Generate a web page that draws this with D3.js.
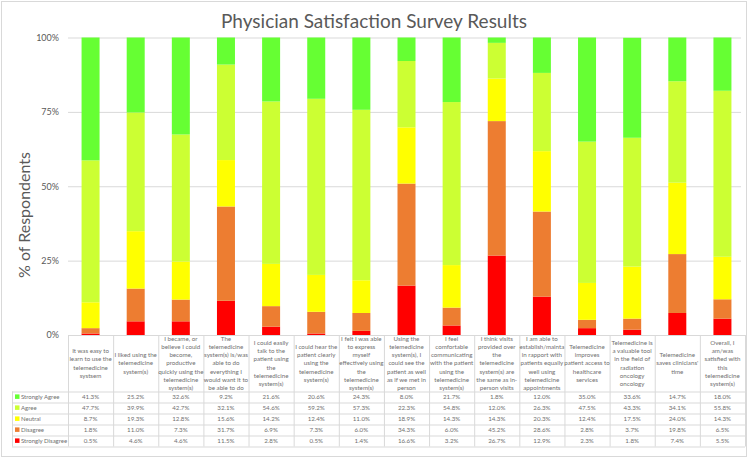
<!DOCTYPE html>
<html>
<head>
<meta charset="utf-8">
<script src="https://cdn.jsdelivr.net/npm/d3@7"></script>
<style>
    body { margin: 0; background: #fff; }
    svg { display: block; font-family: Lato, "Open Sans", sans-serif; }
</style>
</head>
<body>
<svg id="chart" width="750" height="461"></svg>
<script>
// category labels, one entry per line as they wrap in the data table
const categories = [
    ["It was easy to", "learn to use the", "telemedicine", "systsem"],
    ["I liked using the", "telemedicine", "system(s)"],
    ["I became, or", "believe I could", "become,", "productive", "quickly using the", "telemedicine", "system(s)"],
    ["The", "telemedicine", "system(s) is/was", "able to do", "everything I", "would want it to", "be able to do"],
    ["I could easily", "talk to the", "patient using", "the", "telemedicine", "system(s)"],
    ["I could hear the", "patient clearly", "using the", "telemedicine", "system(s)"],
    ["I felt I was able", "to express", "myself", "effectively using", "the", "telemedicine", "system(s)"],
    ["Using the", "telemedicine", "system(s), I", "could see the", "patient as well", "as if we met in", "person"],
    ["I feel", "comfortable", "communicating", "with the patient", "using the", "telemedicine", "system(s)"],
    ["I think visits", "provided over", "the", "telemedicine", "system(s) are", "the same as in-", "person visits"],
    ["I am able to", "establish/mainta", "in rapport with", "patients equally", "well using", "telemedicine", "appointments"],
    ["Telemedicine", "improves", "patient access to", "healthcare", "services"],
    ["Telemedicine is", "a valuable tool", "in the field of", "radiation", "oncology", "oncology"],
    ["Telemedicine", "saves clinicians'", "time"],
    ["Overall, I", "am/was", "satisfied with", "this", "telemedicine", "system(s)"]
];

const seriesNames = ["Strongly Agree", "Agree", "Neutral", "Disagree", "Strongly Disagree"];
const seriesColors = ["#66ff33", "#ccff33", "#ffff00", "#ed7d31", "#ff0000"];

const stronglyAgree    = [41.3, 25.2, 32.6, 9.2, 21.6, 20.6, 24.3, 8.0, 21.7, 1.8, 12.0, 35.0, 33.6, 14.7, 18.0];
const agree            = [47.7, 39.9, 42.7, 32.1, 54.6, 59.2, 57.3, 22.3, 54.8, 12.0, 26.3, 47.5, 43.3, 34.1, 55.8];
const neutral          = [8.7, 19.3, 12.8, 15.6, 14.2, 12.4, 11.0, 18.9, 14.3, 14.3, 20.3, 12.4, 17.5, 24.0, 14.3];
const disagree         = [1.8, 11.0, 7.3, 31.7, 6.9, 7.3, 6.0, 34.3, 6.0, 45.2, 28.6, 2.8, 3.7, 19.8, 6.5];
const stronglyDisagree = [0.5, 4.6, 4.6, 11.5, 2.8, 0.5, 1.4, 16.6, 3.2, 26.7, 12.9, 2.3, 1.8, 7.4, 5.5];

const yTicks = [0, 25, 50, 75, 100];

const allSeries = [stronglyAgree, agree, neutral, disagree, stronglyDisagree];

const svg = d3.select("#chart");
const textColor = "#595959";
const tableText = "#6f6f6f";
const gridColor = "#d9d9d9";

const plot = {left: 68, right: 745, top: 37.5, bottom: 335};
const table = {top: 335, headBottom: 391.5, rowH: 11, legendLeft: 12};

// outer chart border
svg.append("rect")
    .attr("x", 1.5).attr("y", 1.5)
    .attr("width", 745).attr("height", 455)
    .attr("fill", "none").attr("stroke", gridColor);

// rows for stacking, one per category
const rows = categories.map((c, i) => {
    let r = {idx: i};
    seriesNames.forEach((s, j) => r[s] = allSeries[j][i]);
    return r;
});

const x = d3.scaleBand()
    .domain(d3.range(categories.length))
    .range([plot.left, plot.right]);

const y = d3.scaleLinear()
    .domain([0, 100])
    .range([plot.bottom, plot.top]);

// gridlines
svg.append("g")
    .selectAll("line")
    .data(yTicks)
    .join("line")
    .attr("x1", plot.left).attr("x2", plot.right - 4)
    .attr("y1", d => y(d) + 0.5).attr("y2", d => y(d) + 0.5)
    .attr("stroke", gridColor);

// y axis labels
const yAxis = d3.axisLeft(y).tickValues(yTicks).tickFormat(d => d + "%").tickSize(0).tickPadding(9);
svg.append("g")
    .attr("transform", "translate(" + plot.left + ",0)")
    .call(yAxis)
    .call(g => g.select(".domain").remove())
    .call(g => g.selectAll("text")
        .attr("fill", textColor)
        .style("font-size", "9px")
        .style("font-family", "Lato, sans-serif"));

// stacked bars, bottom to top: strongly disagree ... strongly agree
const stackOrder = seriesNames.slice().reverse();
const stack = d3.stack().keys(stackOrder);
const stacked = stack(rows);

const barW = 18;
svg.append("g")
    .selectAll("g")
    .data(stacked)
    .join("g")
    .attr("fill", d => seriesColors[seriesNames.indexOf(d.key)])
    .selectAll("rect")
    .data(d => d)
    .join("rect")
    .attr("x", d => x(d.data.idx) + x.bandwidth() / 2 - barW / 2)
    .attr("width", barW)
    .attr("y", d => y(Math.min(100, d[1])))
    .attr("height", d => y(d[0]) - y(Math.min(100, d[1])));

// title
svg.append("text")
    .attr("x", 374).attr("y", 28)
    .attr("text-anchor", "middle")
    .attr("fill", textColor)
    .style("font-size", "19px")
    .text("Physician Satisfaction Survey Results");

// y axis title
svg.append("text")
    .attr("transform", "translate(29.5,215) rotate(-90)")
    .attr("text-anchor", "middle")
    .attr("fill", textColor)
    .style("font-size", "16px")
    .text("% of Respondents");

// data table
const tbl = svg.append("g");
const tableBottom = table.headBottom + table.rowH * seriesNames.length;

// horizontal lines
const hLines = [table.top].concat(d3.range(seriesNames.length + 1).map(i => table.headBottom + i * table.rowH));
tbl.selectAll("line.h")
    .data(hLines)
    .join("line")
    .attr("class", "h")
    .attr("x1", (d, i) => i === 0 ? plot.left : table.legendLeft)
    .attr("x2", plot.right)
    .attr("y1", d => d + 0.5).attr("y2", d => d + 0.5)
    .attr("stroke", gridColor);

// vertical lines
const vLines = d3.range(categories.length + 1).map(i => plot.left + i * x.step());
tbl.selectAll("line.v")
    .data(vLines)
    .join("line")
    .attr("class", "v")
    .attr("x1", d => d + 0.5).attr("x2", d => d + 0.5)
    .attr("y1", table.top).attr("y2", tableBottom)
    .attr("stroke", gridColor);

tbl.append("line")
    .attr("x1", table.legendLeft + 0.5).attr("x2", table.legendLeft + 0.5)
    .attr("y1", table.headBottom).attr("y2", tableBottom)
    .attr("stroke", gridColor);

// header labels
const lineH = 8.1;
const headMid = (table.top + table.headBottom) / 2;
tbl.selectAll("text.head")
    .data(categories)
    .join("text")
    .attr("class", "head")
    .attr("text-anchor", "middle")
    .attr("fill", tableText)
    .style("font-size", "6.2px")
    .each(function (lines, i) {
        const cx = x(i) + x.bandwidth() / 2;
        const y0 = headMid - (lines.length - 1) * lineH / 2 + 2.2;
        d3.select(this).selectAll("tspan")
            .data(lines)
            .join("tspan")
            .attr("x", cx)
            .attr("y", (d, k) => y0 + k * lineH)
            .text(d => d);
    });

// value cells
seriesNames.forEach((name, j) => {
    const rowY = table.headBottom + j * table.rowH + table.rowH / 2 + 2.2;
    tbl.selectAll("text.v" + j)
        .data(allSeries[j])
        .join("text")
        .attr("class", "v" + j)
        .attr("x", (d, i) => x(i) + x.bandwidth() / 2)
        .attr("y", rowY)
        .attr("text-anchor", "middle")
        .attr("fill", tableText)
        .style("font-size", "6.2px")
        .text(d => d.toFixed(1) + "%");

    // legend key
    tbl.append("rect")
        .attr("x", table.legendLeft + 3)
        .attr("y", rowY - 4.8)
        .attr("width", 4.5).attr("height", 4.5)
        .attr("fill", seriesColors[j]);
    tbl.append("text")
        .attr("x", table.legendLeft + 9)
        .attr("y", rowY)
        .attr("fill", tableText)
        .style("font-size", "6px")
        .text(name);
});
</script>
</body>
</html>
